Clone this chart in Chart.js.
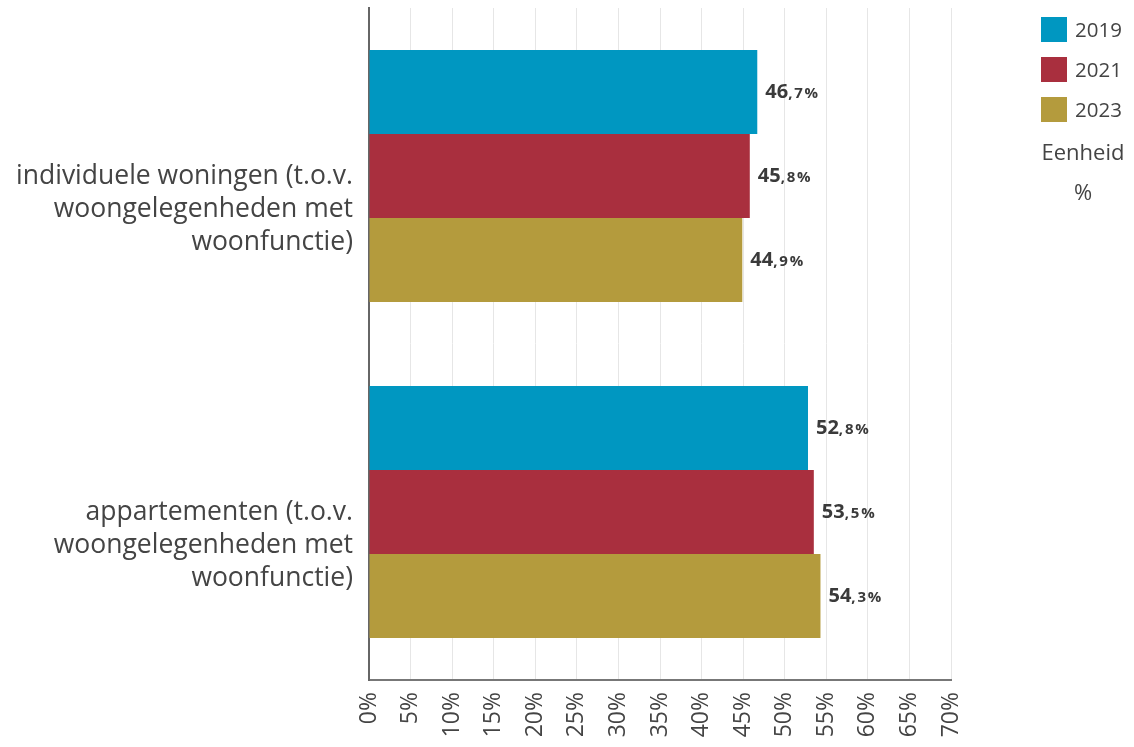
<!DOCTYPE html>
<html><head><meta charset="utf-8">
<script src="https://cdn.jsdelivr.net/npm/chart.js@4/dist/chart.umd.min.js"></script>
<style>
html,body{margin:0;padding:0;background:#fff;}
#wrap{position:relative;width:1134px;height:747px;}
#legend{position:absolute;left:1041px;top:9px;font-family:"Open Sans",sans-serif;color:#444;font-size:20.5px;}
.li{display:flex;align-items:center;height:40px;}
.sw{width:26px;height:25px;margin-right:8px;}
.unit{text-align:center;width:84px;margin-top:2px;line-height:40px;font-size:22px;}
</style></head>
<body><div id="wrap"><canvas id="c" width="1134" height="747"></canvas>
<div id="legend"></div></div>
<script>
const categories = [
  ["individuele woningen (t.o.v.", "woongelegenheden met", "woonfunctie)"],
  ["appartementen (t.o.v.", "woongelegenheden met", "woonfunctie)"]
];
const seriesNames = ["2019", "2021", "2023"];
const values2019 = [46.7, 52.8];
const values2021 = [45.8, 53.5];
const values2023 = [44.9, 54.3];
const seriesColors = ["#0097C1", "#A92F3E", "#B49B3D"];
const unitTitle = "Eenheid";
const unitLabel = "%";

const allValues = [values2019, values2021, values2023];
const datasets = seriesNames.map((n, i) => ({
  label: n, data: allValues[i], backgroundColor: seriesColors[i],
  borderWidth: 0, barPercentage: 1, categoryPercentage: 0.75
}));

const valueLabels = {
  id: 'valueLabels',
  afterDatasetsDraw(chart) {
    const ctx = chart.ctx;
    ctx.save();
    ctx.fillStyle = '#3a3a3a';
    ctx.textBaseline = 'middle';
    ctx.textAlign = 'left';
    chart.data.datasets.forEach((ds, di) => {
      chart.getDatasetMeta(di).data.forEach((bar, i) => {
        const v = ds.data[i].toFixed(1).split('.');
        let x = bar.x + 8;
        ctx.font = 'bold 20px "Open Sans", sans-serif';
        ctx.fillText(v[0], x, bar.y);
        x += ctx.measureText(v[0]).width;
        ctx.font = 'bold 15px "Open Sans", sans-serif';
        ctx.letterSpacing = '1.8px';
        ctx.fillText(',' + v[1] + '%', x, bar.y + 2);
        ctx.letterSpacing = '0px';
      });
    });
    ctx.restore();
  }
};

new Chart(document.getElementById('c'), {
  type: 'bar',
  data: { labels: categories, datasets },
  options: {
    indexAxis: 'y',
    responsive: false,
    animation: false,
    layout: { padding: { top: 8, right: 183, left: 0, bottom: 0 } },
    plugins: { legend: { display: false }, tooltip: { enabled: false } },
    scales: {
      x: {
        min: 0, max: 70,
        ticks: { stepSize: 5, callback: v => v + '%', minRotation: 90, maxRotation: 90,
          color: '#444', font: { family: 'Open Sans', size: 23 }, padding: 12 },
        grid: { color: '#e6e6e6', lineWidth: 1, drawTicks: false },
        border: { color: '#777', width: 2 },
        afterFit(s) { s.height = 67; s.paddingLeft = 0; s.paddingRight = 0; }
      },
      y: {
        ticks: { color: '#444', font: { family: 'Open Sans', size: 26.5, lineHeight: '33px' },
          padding: 16, labelOffset: 33 },
        grid: { display: false, drawTicks: false },
        border: { color: '#666', width: 2 },
        afterFit(s) { s.width = 369; s.paddingTop = 0; s.paddingBottom = 0; }
      }
    }
  },
  plugins: [valueLabels]
});

const lg = document.getElementById('legend');
seriesNames.forEach((n, i) => {
  const d = document.createElement('div'); d.className = 'li';
  const s = document.createElement('div'); s.className = 'sw'; s.style.background = seriesColors[i];
  d.appendChild(s); d.appendChild(document.createTextNode(n)); lg.appendChild(d);
});
const u = document.createElement('div'); u.className = 'unit';
u.innerHTML = unitTitle + '<br>' + unitLabel; lg.appendChild(u);
</script></body></html>
